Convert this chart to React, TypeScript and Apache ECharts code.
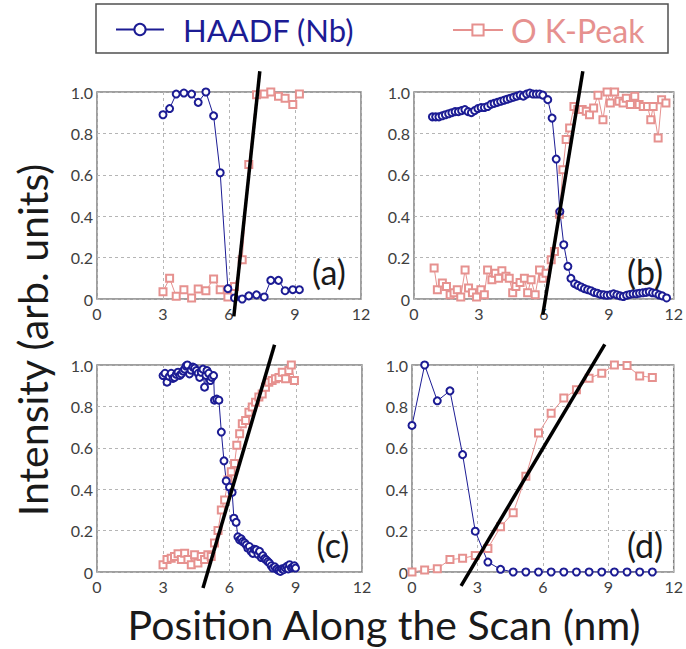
import { useEffect, useRef } from 'react';
import * as echarts from 'echarts';

const HAADF = 'HAADF (Nb)';
const OKPEAK = 'O K-Peak';
const panelLabels = ['(a)', '(b)', '(c)', '(d)'];
const xTitle = 'Position Along the Scan (nm)';
const yTitle = 'Intensity (arb. units)';

// Panel (a)
const aHaadf: [number, number][] = [
  [3.0, 0.89], [3.3, 0.92], [3.6, 0.99], [3.95, 0.995], [4.3, 0.99], [4.6, 0.95], [4.95, 1.0],
  [5.3, 0.885], [5.6, 0.61], [5.95, 0.05], [6.25, 0.005], [6.6, 0.0], [6.9, 0.015], [7.25, 0.02],
  [7.6, 0.01], [7.9, 0.09], [8.25, 0.09], [8.55, 0.04], [8.9, 0.045], [9.2, 0.045],
];
const aOk: [number, number][] = [
  [3.0, 0.035], [3.3, 0.1], [3.6, 0.013], [3.95, 0.045], [4.3, 0.005], [4.6, 0.048], [4.95, 0.04],
  [5.3, 0.097], [5.6, 0.045], [5.95, 0.01], [6.25, 0.06], [6.6, 0.19], [6.9, 0.65], [7.25, 0.987],
  [7.6, 0.99], [7.9, 1.0], [8.25, 0.98], [8.55, 0.97], [8.9, 0.94], [9.2, 0.99],
];
const aFit: [number, number][] = [[6.22, -0.084], [7.4, 1.1]];

// Panel (b)
const bHaadf: [number, number][] = [
  [0.85, 0.88], [1.0, 0.88], [1.15, 0.88], [1.3, 0.885], [1.45, 0.89], [1.6, 0.895], [1.75, 0.9],
  [1.9, 0.905], [2.05, 0.905], [2.2, 0.91], [2.35, 0.915], [2.5, 0.905], [2.65, 0.9], [2.8, 0.91],
  [2.95, 0.92], [3.1, 0.925], [3.25, 0.925], [3.4, 0.93], [3.55, 0.94], [3.7, 0.945], [3.85, 0.95],
  [4.0, 0.955], [4.15, 0.96], [4.3, 0.965], [4.45, 0.97], [4.6, 0.975], [4.75, 0.98], [4.9, 0.985],
  [5.05, 0.98], [5.2, 0.99], [5.35, 0.995], [5.5, 0.99], [5.65, 0.99], [5.8, 0.99], [5.95, 0.985],
  [6.18, 0.963], [6.38, 0.874], [6.57, 0.676], [6.74, 0.423], [6.92, 0.262], [7.11, 0.158],
  [7.25, 0.1], [7.42, 0.074], [7.57, 0.066], [7.72, 0.058], [7.87, 0.05], [8.02, 0.045], [8.17, 0.04],
  [8.32, 0.032], [8.47, 0.028], [8.62, 0.022], [8.77, 0.02], [8.92, 0.018], [9.07, 0.02], [9.22, 0.025],
  [9.37, 0.02], [9.52, 0.015], [9.67, 0.012], [9.82, 0.018], [9.97, 0.022], [10.12, 0.025],
  [10.27, 0.025], [10.42, 0.028], [10.57, 0.03], [10.72, 0.032], [10.87, 0.035], [11.02, 0.03],
  [11.17, 0.028], [11.32, 0.02], [11.47, 0.015], [11.67, 0.005],
];
const bOk: [number, number][] = [
  [0.93, 0.15], [1.08, 0.045], [1.31, 0.077], [1.5, 0.06], [1.67, 0.02], [1.85, 0.03], [2.0, 0.045],
  [2.16, 0.01], [2.36, 0.14], [2.52, 0.053], [2.7, 0.03], [2.89, 0.01], [3.09, 0.045], [3.25, 0.02],
  [3.4, 0.14], [3.6, 0.093], [3.76, 0.125], [3.91, 0.1], [4.06, 0.137], [4.25, 0.11], [4.4, 0.1],
  [4.56, 0.03], [4.71, 0.06], [4.9, 0.08], [5.1, 0.1], [5.25, 0.03], [5.41, 0.093], [5.6, 0.02],
  [5.8, 0.14], [5.95, 0.1], [6.1, 0.125], [6.34, 0.19], [6.49, 0.23], [6.72, 0.41], [6.88, 0.625],
  [7.03, 0.77], [7.19, 0.826], [7.39, 0.93], [7.57, 0.915], [7.77, 0.915], [7.96, 0.907], [8.11, 0.89],
  [8.3, 0.923], [8.5, 0.984], [8.73, 0.866], [8.92, 1.0], [9.07, 0.947], [9.27, 1.0], [9.47, 0.955],
  [9.66, 0.947], [9.81, 0.97], [10.0, 0.94], [10.2, 0.98], [10.4, 0.94], [10.59, 0.93], [10.79, 0.93],
  [10.94, 0.866], [11.05, 0.93], [11.28, 0.778], [11.44, 0.963], [11.64, 0.947],
];
const bFit: [number, number][] = [[5.95, -0.076], [7.8, 1.1]];

// Panel (c)
const cHaadf: [number, number][] = [
  [2.99, 0.949], [3.08, 0.96], [3.17, 0.917], [3.27, 0.945], [3.36, 0.96], [3.44, 0.935], [3.51, 0.94],
  [3.59, 0.955], [3.67, 0.965], [3.75, 0.95], [3.82, 0.957], [3.9, 0.97], [3.97, 0.98], [4.03, 0.995],
  [4.09, 1.0], [4.19, 0.957], [4.26, 0.975], [4.34, 0.99], [4.42, 0.985], [4.5, 0.973], [4.58, 0.96],
  [4.65, 0.94], [4.72, 0.965], [4.8, 0.98], [4.87, 0.893], [4.93, 0.95], [4.98, 0.973], [5.06, 0.96],
  [5.13, 0.925], [5.2, 0.94], [5.28, 0.949], [5.32, 0.83], [5.42, 0.835], [5.52, 0.83], [5.63, 0.676],
  [5.75, 0.537], [5.85, 0.44], [6.0, 0.41], [6.12, 0.385], [6.2, 0.26], [6.3, 0.24], [6.38, 0.17],
  [6.46, 0.155], [6.53, 0.16], [6.6, 0.147], [6.68, 0.14], [6.76, 0.131], [6.83, 0.115], [6.9, 0.123],
  [6.98, 0.1], [7.06, 0.09], [7.13, 0.11], [7.21, 0.107], [7.29, 0.085], [7.36, 0.1], [7.44, 0.07],
  [7.51, 0.079], [7.59, 0.065], [7.66, 0.059], [7.74, 0.05], [7.81, 0.043], [7.89, 0.03], [7.96, 0.019],
  [8.05, 0.025], [8.14, 0.014], [8.22, 0.008], [8.3, 0.003], [8.38, 0.015], [8.45, 0.011], [8.52, 0.02],
  [8.6, 0.027], [8.66, 0.015], [8.72, 0.035], [8.8, 0.02], [8.87, 0.024], [8.94, 0.03], [8.99, 0.019],
];
const cOk: [number, number][] = [
  [2.99, 0.035], [3.17, 0.06], [3.36, 0.067], [3.51, 0.075], [3.67, 0.088], [3.82, 0.06], [3.97, 0.091],
  [4.12, 0.06], [4.27, 0.035], [4.42, 0.083], [4.57, 0.043], [4.72, 0.075], [4.87, 0.06], [5.02, 0.083],
  [5.17, 0.075], [5.32, 0.14], [5.48, 0.2], [5.63, 0.3], [5.78, 0.348], [5.93, 0.444], [6.08, 0.484],
  [6.23, 0.524], [6.33, 0.612], [6.46, 0.668], [6.58, 0.716], [6.73, 0.732], [6.88, 0.772], [7.03, 0.797],
  [7.18, 0.82], [7.33, 0.845], [7.48, 0.86], [7.63, 0.893], [7.78, 0.917], [7.93, 0.925], [8.08, 0.933],
  [8.24, 0.94], [8.39, 0.965], [8.54, 0.933], [8.69, 0.973], [8.8, 1.0], [8.94, 0.925],
];
const cFit: [number, number][] = [[4.8, -0.077], [8.04, 1.098]];

// Panel (d)
const dHaadf: [number, number][] = [
  [0.0, 0.708], [0.58, 1.0], [1.16, 0.827], [1.74, 0.875], [2.32, 0.567], [2.9, 0.197], [3.48, 0.048],
  [4.06, 0.013], [4.64, 0.0], [5.22, 0.0], [5.8, 0.0], [6.38, 0.0], [6.96, 0.0], [7.54, 0.0],
  [8.12, 0.0], [8.7, 0.0], [9.28, 0.0], [9.86, 0.0], [10.44, 0.0], [11.02, 0.0],
];
const dOk: [number, number][] = [
  [0.0, 0.0], [0.58, 0.01], [1.16, 0.016], [1.74, 0.06], [2.32, 0.066], [2.9, 0.08], [3.48, 0.114],
  [4.06, 0.218], [4.64, 0.286], [5.22, 0.462], [5.8, 0.671], [6.38, 0.767], [6.96, 0.84], [7.54, 0.88],
  [8.12, 0.936], [8.7, 0.96], [9.28, 1.0], [9.86, 0.997], [10.44, 0.947], [11.02, 0.94],
];
const dFit: [number, number][] = [[2.25, -0.067], [8.84, 1.1]];

const panels = [
  { haadf: aHaadf, ok: aOk, fit: aFit },
  { haadf: bHaadf, ok: bOk, fit: bFit },
  { haadf: cHaadf, ok: cOk, fit: cFit },
  { haadf: dHaadf, ok: dOk, fit: dFit },
];

const xMin = 0, xMax = 12, xStep = 3;
const yMin = 0, yMax = 1, yStep = 0.2;

const BLUE = '#1c1c94';
const PINK = '#e6918f';
const FONT = 'Lato';

export default function App() {
  const ref = useRef<HTMLDivElement>(null);
  useEffect(() => {
    if (!ref.current) return;
    const chart = echarts.init(ref.current, undefined, { renderer: 'svg' });
    const gridPos = [
      { left: 97, top: 92, width: 264, height: 207 },
      { left: 414, top: 92, width: 262, height: 207 },
      { left: 97, top: 365, width: 265, height: 207 },
      { left: 412, top: 365, width: 263, height: 207 },
    ];
    const labelPos = [
      [329, 271], [645, 271], [333, 544], [645, 544],
    ];
    const series: any[] = [];
    panels.forEach((p, i) => {
      series.push({
        type: 'line', name: OKPEAK, xAxisIndex: i, yAxisIndex: i, data: p.ok,
        symbol: 'emptyRect', symbolSize: 7, color: PINK,
        lineStyle: { color: PINK, width: 1 }, itemStyle: { color: PINK, borderWidth: 1 },
      });
      series.push({
        type: 'line', name: HAADF, xAxisIndex: i, yAxisIndex: i, data: p.haadf,
        symbol: 'emptyCircle', symbolSize: 7, color: BLUE,
        lineStyle: { color: BLUE, width: 1 }, itemStyle: { color: BLUE, borderWidth: 1 },
      });
      series.push({
        type: 'line', name: 'fit' + i, xAxisIndex: i, yAxisIndex: i, data: p.fit,
        symbol: 'none', clip: false, silent: true, z: 5,
        lineStyle: { color: '#000', width: 3.5 },
      });
    });
    chart.setOption({
      animation: false,
      backgroundColor: '#fff',
      textStyle: { fontFamily: FONT },
      grid: gridPos.map((g) => ({
        ...g, show: true, borderColor: '#808080', borderWidth: 1.5, backgroundColor: 'transparent',
      })),
      xAxis: gridPos.map((_, i) => ({
        type: 'value', gridIndex: i, min: xMin, max: xMax, interval: xStep,
        axisLine: { show: false }, axisTick: { show: false },
        axisLabel: { fontSize: 16, color: '#404040', margin: 6, fontFamily: FONT },
        splitLine: { show: true, lineStyle: { color: '#b5b5b5', type: [3, 3], width: 1 } },
      })),
      yAxis: gridPos.map((_, i) => ({
        type: 'value', gridIndex: i, min: yMin, max: yMax, interval: yStep,
        axisLine: { show: false }, axisTick: { show: false },
        axisLabel: {
          fontSize: 16, color: '#404040', margin: 4, fontFamily: FONT,
          formatter: (v: number) => (v === 0 ? '0' : v.toFixed(1)),
        },
        splitLine: { show: true, lineStyle: { color: '#b5b5b5', type: [3, 3], width: 1 } },
      })),
      legend: [
        {
          data: [HAADF], left: 110, top: 9, itemWidth: 48, itemHeight: 14, itemGap: 10,
          textStyle: { fontSize: 31, color: BLUE, fontFamily: FONT, padding: [0, 0, 0, 14] }, selectedMode: false,
        },
        {
          data: [OKPEAK], left: 447, top: 9, itemWidth: 50, itemHeight: 14, itemGap: 10,
          textStyle: { fontSize: 32, color: PINK, fontFamily: FONT, padding: [0, 0, 0, 3] }, selectedMode: false,
        },
      ],
      graphic: [
        {
          type: 'rect', shape: { x: 96, y: 4, width: 572, height: 49 },
          style: { fill: 'none', stroke: '#505050', lineWidth: 1.5 }, silent: true,
        },
        ...panelLabels.map((t, i) => ({
          type: 'text', x: labelPos[i][0], y: labelPos[i][1],
          style: { text: t, fontSize: 34, fill: '#1a1a1a', fontFamily: FONT, textAlign: 'center', textVerticalAlign: 'middle' },
          z: 10,
        })),
        {
          type: 'text', x: 384, y: 624,
          style: { text: xTitle, fontSize: 41, fill: '#1a1a1a', fontFamily: FONT, textAlign: 'center', textVerticalAlign: 'middle' },
        },
        {
          type: 'text', x: 32, y: 340, rotation: Math.PI / 2,
          style: { text: yTitle, fontSize: 41, fill: '#1a1a1a', fontFamily: FONT, textAlign: 'center', textVerticalAlign: 'middle' },
        },
      ],
      series,
    });
    return () => chart.dispose();
  }, []);
  return <div ref={ref} style={{ position: 'absolute', left: 0, top: 0, width: 686, height: 649 }} />;
}
